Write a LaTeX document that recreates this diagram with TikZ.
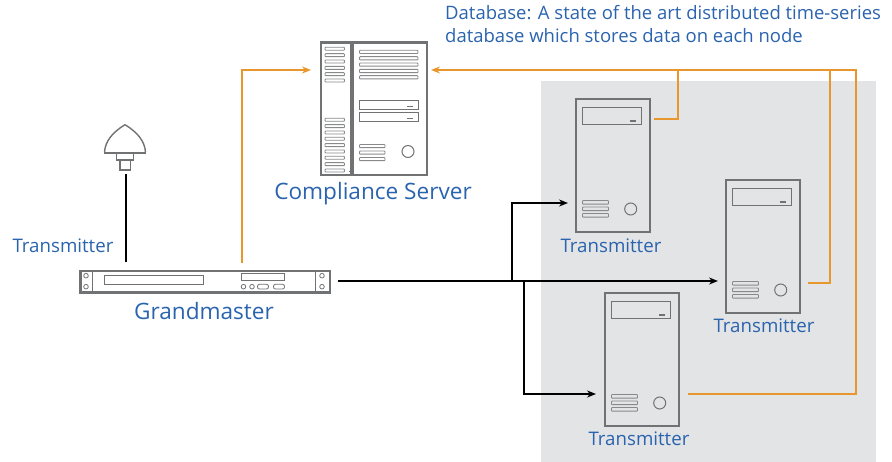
\documentclass[tikz,border=0pt]{standalone}
\usepackage{fontspec}
\setmainfont{Open Sans}
\usetikzlibrary{arrows.meta}
\definecolor{lblue}{HTML}{2A63AE}
\definecolor{lorange}{HTML}{E8972E}
\definecolor{lgray}{HTML}{717274}
\definecolor{lvent}{HTML}{88898B}
\definecolor{lbg}{HTML}{E3E4E6}
\tikzset{
  part/.style={draw=lgray,line width=1pt,fill=none},
  shell/.style={draw=lgray,line width=2.2pt,fill=none,rectangle,inner sep=0pt,anchor=north west},
  vent/.style={draw=lvent,line width=0.9pt,rounded corners=0.7pt},
  orangeline/.style={draw=lorange,line width=2.2pt},
  blackline/.style={draw=black,line width=2pt},
  tip/.style={-{Stealth[length=9pt,width=7pt]}},
  biglabel/.style={text=lblue,font=\fontsize{22.6}{26}\selectfont,inner sep=0pt},
  smalllabel/.style={text=lblue,font=\fontsize{18.7}{22}\selectfont,inner sep=0pt},
  notelabel/.style={text=lblue,font=\fontsize{18.5}{23}\selectfont,inner sep=0pt,align=left,anchor=north west},
}
\newcommand{\towerbox}[3]{%
  \node[shell,minimum width=74pt,minimum height=133pt] (#1) at (#2,#3) {};
  \begin{scope}[shift={(#2,#3)}]
    \draw[part] (7.5,9.5) rectangle (66.5,27);
    \draw[part,line width=1.4pt] (55,23) -- (61,23);
    \foreach \yy in {102.5,109,115.5}{\draw[vent] (7.5,\yy) rectangle (33.5,\yy+3.6);}
    \draw[part] (55.7,111) circle (6);
  \end{scope}}
\begin{document}
\begin{tikzpicture}[x=1pt,y=-1pt]
\useasboundingbox (0,0) rectangle (892,462);
\fill[lbg] (541,81) rectangle (876,462);
% compliance server
\node[shell,minimum width=29.5pt,minimum height=132.5pt] (csl) at (320,41.5) {};
\node[shell,minimum width=74.5pt,minimum height=132.5pt] (cs) at (351.5,41.5) {};
\draw[part] (349.3,44) -- (351.7,44) (349.3,171.5) -- (351.7,171.5);
\foreach \yy in {47.3,53.7,60,66.4,72.7,79,118.3,124.6,131,137.3,143.6,150,156.3,162.7,169}{\draw[vent] (325,\yy) rectangle (344.5,\yy+3);}
\foreach \yy in {50.3,56.7,63,69.4,75.7}{\draw[vent] (359.5,\yy) rectangle (418,\yy+3.2);}
\draw[part] (359.5,100.7) rectangle (418,109.7);
\draw[part] (359.5,112.7) rectangle (418,121.5);
\draw[part,line width=1.4pt] (407,106.5) -- (413,106.5) (407,118.5) -- (413,118.5);
\foreach \yy in {144.5,151,157.5}{\draw[vent] (359.5,\yy) rectangle (385,\yy+3.2);}
\draw[part] (408,151.5) circle (6);
% antenna
\node[draw=none,inner sep=0pt,minimum width=0pt,minimum height=0pt] (ant) at (125,171) {};
\draw[draw=lgray,line width=1.4pt,line join=round] (104.5,152.5) .. controls (105,141) and (113,132) .. (125,124.7) .. controls (137,132) and (145,141) .. (145.5,152.5);
\draw[lgray,line width=1.8pt] (104,153) -- (146,153);
\draw[part,line width=1.4pt] (116.5,153) rectangle (133.5,160);
\draw[part,line width=1.4pt] (120,160) rectangle (130.5,170);
% grandmaster
\node[shell,minimum width=249.5pt,minimum height=21.5pt] (gm) at (79.3,270) {};
\draw[part] (92.7,270) -- (92.7,291.5) (315.7,270) -- (315.7,291.5);
\foreach \xx in {86,322}{\foreach \yy in {275.7,286.7}{\draw[part,line width=.8pt] (\xx,\yy) circle (2.3);}}
\draw[part] (104.5,276) rectangle (203.5,285);
\draw[part] (241.5,273.5) rectangle (284.5,281);
\draw[part,line width=.8pt] (243.5,286.7) circle (2.3) (252,286.7) circle (2.3);
\draw[part,line width=.8pt,rounded corners=2pt] (257.5,284.3) rectangle (268.5,289) (273.5,284.3) rectangle (284.5,289);
% towers
\towerbox{ta}{575}{98}
\towerbox{tb}{725}{179}
\towerbox{tc}{604}{292}
% labels
\node[biglabel] (lcs) at (373,194) {Compliance Server};
\node[biglabel] (lgm) at (204,311) {Grandmaster};
\node[smalllabel] (lant) at (63,246) {Transmitter};
\node[smalllabel] (lta) at (611,246) {Transmitter};
\node[smalllabel] (ltb) at (764,325.5) {Transmitter};
\node[smalllabel] (ltc) at (639,438.5) {Transmitter};
\node[notelabel] (note) at (445,5.5) {Database: A state of the art distributed time-series\\database which stores data on each node};
% connectors
\coordinate (gmtopl) at (125.5,262);
\coordinate (gmtopr) at (241.6,263);
\coordinate (gmout) at (338,281);
\coordinate (busa) at (512,281);
\coordinate (busc) at (524,281);
\coordinate (tain) at (568,203);
\coordinate (tcin) at (596,394);
\coordinate (tbin) at (718,281);
\coordinate (csin) at (311,70);
\coordinate (csout) at (431,70);
\coordinate (taout) at (654,119);
\coordinate (tbout) at (808,283);
\coordinate (tcout) at (688,394);
\draw[blackline] (ant.south) ++(0.5,3) -- (gmtopl);
\draw[orangeline,tip] (gmtopr) |- (csin);
\draw[orangeline,tip] (857,70) -- (csout);
\draw[orangeline] (taout) -| (678,70);
\draw[orangeline] (tbout) -| (830,70);
\draw[orangeline] (tcout) -| (856,69);
\draw[blackline,tip] (gmout) -- (tbin);
\draw[blackline,tip] (busa) |- (tain);
\draw[blackline,tip] (busc) |- (tcin);
\end{tikzpicture}
\end{document}
